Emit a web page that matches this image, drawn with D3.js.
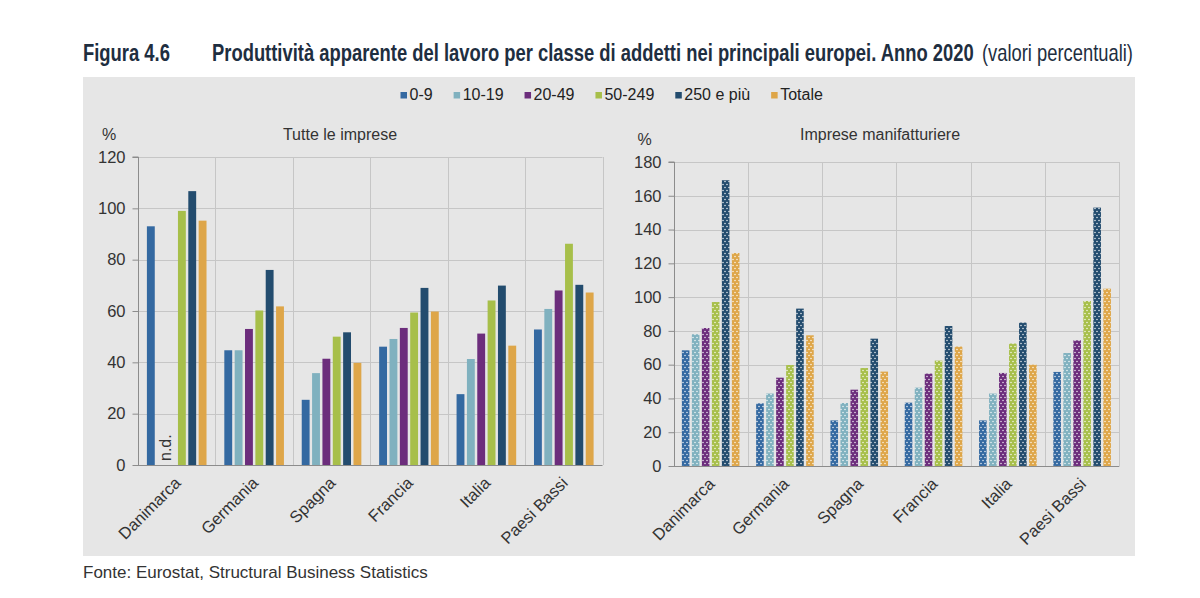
<!DOCTYPE html>
<html>
<head>
<meta charset="utf-8">
<script src="https://cdn.jsdelivr.net/npm/d3@7"></script>
<style>
  html, body { margin: 0; padding: 0; background: #ffffff; }
  svg { display: block; }
  text { font-family: "Liberation Sans", Arial, sans-serif; }
</style>
</head>
<body>
<svg id="chart" width="1200" height="598"></svg>
<script>
// ---------------- DATA ----------------
const categories = ["Danimarca", "Germania", "Spagna", "Francia", "Italia", "Paesi Bassi"];
const seriesNames = ["0-9", "10-19", "20-49", "50-249", "250 e più", "Totale"];
const seriesColors = ["#3469a1", "#80b1bf", "#6c2d7c", "#a7bf4a", "#234c6e", "#dea649"];

// Tutte le imprese (null = n.d.)
const tutte_0_9     = [93.0, 44.7, 25.4, 46.1, 27.6, 52.8];
const tutte_10_19   = [null, 44.7, 35.8, 49.1, 41.3, 60.8];
const tutte_20_49   = [null, 53.0, 41.4, 53.4, 51.2, 68.0];
const tutte_50_249  = [99.0, 60.2, 50.0, 59.4, 64.1, 86.2];
const tutte_250     = [106.7, 76.0, 51.7, 69.0, 69.9, 70.2];
const tutte_totale  = [95.2, 61.8, 39.8, 59.8, 46.5, 67.2];

// Imprese manifatturiere
const manif_0_9     = [68.5, 37.1, 27.0, 37.5, 27.0, 55.7];
const manif_10_19   = [78.0, 42.9, 37.3, 46.4, 42.9, 66.9];
const manif_20_49   = [81.7, 52.3, 45.2, 54.7, 55.1, 74.4];
const manif_50_249  = [97.1, 59.8, 58.0, 62.4, 72.5, 97.7];
const manif_250     = [169.2, 93.2, 75.4, 82.9, 84.9, 153.0];
const manif_totale  = [126.1, 77.4, 55.9, 70.7, 60.0, 105.0];

const tutteTicks = [0, 20, 40, 60, 80, 100, 120];
const manifTicks = [0, 20, 40, 60, 80, 100, 120, 140, 160, 180];

const titleFig = "Figura 4.6";
const titleMain = "Produttività apparente del lavoro per classe di addetti nei principali europei. Anno 2020";
const titleUnit = "(valori percentuali)";
const sourceText = "Fonte: Eurostat, Structural Business Statistics";
const ndLabel = "n.d.";

// ---------------- DRAW ----------------
const svg = d3.select("#chart");
const defs = svg.append("defs");

const textCol = "#333333";
const gridCol = "#c6c6c6";
const axisCol = "#8c8c8c";

// grey background box
svg.append("rect").attr("x", 83).attr("y", 77).attr("width", 1052).attr("height", 479)
  .attr("fill", "#e6e6e6");

// title (condensed by horizontal scaling to the reference widths)
const titleColor = "#1e2e40";
function condensedText(str, x, y, size, weight, width) {
  const t = svg.append("text").attr("x", 0).attr("y", 0).attr("font-size", size)
    .attr("font-weight", weight).attr("fill", titleColor).text(str);
  const w = t.node().getComputedTextLength();
  t.attr("transform", `translate(${x},${y}) scale(${width / w},1)`);
  return t;
}
condensedText(titleFig, 83, 61, 24, "bold", 87);
condensedText(titleMain, 212, 61, 24, "bold", 762);
condensedText(titleUnit, 982, 61, 23, "normal", 151);

// legend
let lx = 400.5;
seriesNames.forEach((name, i) => {
  const g = svg.append("g");
  g.append("rect").attr("x", lx).attr("y", 92).attr("width", 6.5).attr("height", 6.5).attr("fill", seriesColors[i]);
  const t = g.append("text").attr("x", lx + 9).attr("y", 99.5).attr("font-size", 16).attr("fill", "#222").text(name);
  lx += 9 + t.node().getComputedTextLength() + 21;
});

// dot patterns for manufacturing panel
seriesColors.forEach((c, i) => {
  const p = defs.append("pattern").attr("id", "dots" + i).attr("patternUnits", "userSpaceOnUse")
    .attr("width", 4).attr("height", 6);
  p.append("rect").attr("width", 4).attr("height", 6).attr("fill", c);
  p.append("circle").attr("cx", 1).attr("cy", 1.5).attr("r", 0.8).attr("fill", "#ffffff").attr("opacity", 0.85);
  p.append("circle").attr("cx", 3).attr("cy", 4.5).attr("r", 0.8).attr("fill", "#ffffff").attr("opacity", 0.85);
});

function drawPanel(cfg) {
  const g = svg.append("g");
  const x0 = d3.scaleBand().domain(categories).range([cfg.left, cfg.right]);
  const cw = x0.bandwidth();
  const x1 = d3.scaleBand().domain(seriesNames)
    .range([cw / 2 - 3 * cfg.step, cw / 2 + 3 * cfg.step]).paddingInner(0.24).paddingOuter(0.12);
  const y = d3.scaleLinear().domain([0, cfg.max]).range([cfg.bottom, cfg.top]);

  // horizontal grid
  g.selectAll(".hg").data(cfg.ticks.filter(t => t > 0)).join("line")
    .attr("x1", cfg.left).attr("x2", cfg.right)
    .attr("y1", d => Math.round(y(d)) + 0.5).attr("y2", d => Math.round(y(d)) + 0.5)
    .attr("stroke", gridCol).attr("stroke-width", 1);
  // vertical grid at category boundaries
  g.selectAll(".vg").data(categories).join("line")
    .attr("x1", d => Math.round(x0(d) + cw) + 0.5).attr("x2", d => Math.round(x0(d) + cw) + 0.5)
    .attr("y1", y(cfg.max)).attr("y2", cfg.bottom)
    .attr("stroke", gridCol).attr("stroke-width", 1);

  // bars
  cfg.values.forEach((arr, si) => {
    g.selectAll(".b" + si).data(arr.map((v, ci) => ({ v, c: categories[ci] })).filter(d => d.v != null))
      .join("rect")
      .attr("x", d => x0(d.c) + x1(seriesNames[si]))
      .attr("width", x1.bandwidth())
      .attr("y", d => y(d.v))
      .attr("height", d => y(0) - y(d.v))
      .attr("fill", cfg.pattern ? `url(#dots${si})` : seriesColors[si]);
  });

  // n.d. labels
  if (cfg.nd) {
    cfg.values[1].forEach((v, ci) => {
      if (v == null) {
        const c = categories[ci];
        const nx = x0(c) + x1(seriesNames[2]) + 3;
        g.append("text").attr("transform", `translate(${nx},${cfg.bottom - 4}) rotate(-90)`)
          .attr("font-size", 16).attr("fill", textCol).text(ndLabel);
      }
    });
  }

  // y axis
  const ya = g.append("g").attr("transform", `translate(${Math.round(cfg.left) + 0.5},0)`)
    .call(d3.axisLeft(y).tickValues(cfg.ticks).tickSize(6).tickPadding(7).tickFormat(d3.format("d")));
  ya.select(".domain").attr("stroke", axisCol).attr("d", `M-6,${y(cfg.max)}H0V${cfg.bottom}`);
  ya.selectAll(".tick line").attr("stroke", axisCol);
  ya.selectAll(".tick text").attr("font-size", 16.5).attr("fill", textCol)
    .attr("font-family", "'Liberation Sans', Arial, sans-serif");

  // x axis line
  g.append("line").attr("x1", cfg.left).attr("x2", cfg.right)
    .attr("y1", Math.round(cfg.bottom) + 0.5).attr("y2", Math.round(cfg.bottom) + 0.5)
    .attr("stroke", axisCol).attr("stroke-width", 1);

  // x labels
  g.selectAll(".xl").data(categories).join("text")
    .attr("transform", d => `translate(${x0(d) + cw / 2 + 5},${cfg.bottom + 19}) rotate(-45)`)
    .attr("text-anchor", "end").attr("font-size", 16.5).attr("fill", textCol).text(d => d);

  // % and subtitle
  g.append("text").attr("x", cfg.left - 29).attr("y", y(cfg.max) - 17).attr("text-anchor", "middle")
    .attr("font-size", 16).attr("fill", textCol).text("%");
  g.append("text").attr("x", cfg.titleX).attr("y", 140).attr("text-anchor", "middle")
    .attr("font-size", 16).attr("fill", textCol).text(cfg.title);
}

drawPanel({
  left: 138, right: 602.5, top: 157, bottom: 465, max: 120, step: 10.35,
  ticks: tutteTicks, title: "Tutte le imprese", titleX: 340, pattern: false, nd: true,
  values: [tutte_0_9, tutte_10_19, tutte_20_49, tutte_50_249, tutte_250, tutte_totale]
});
drawPanel({
  left: 673.5, right: 1119.3, top: 162, bottom: 466, max: 180, step: 10,
  ticks: manifTicks, title: "Imprese manifatturiere", titleX: 880, pattern: true, nd: false,
  values: [manif_0_9, manif_10_19, manif_20_49, manif_50_249, manif_250, manif_totale]
});

// source
svg.append("text").attr("x", 83).attr("y", 578).attr("font-size", 17).attr("fill", textCol).text(sourceText);
</script>
</body>
</html>
